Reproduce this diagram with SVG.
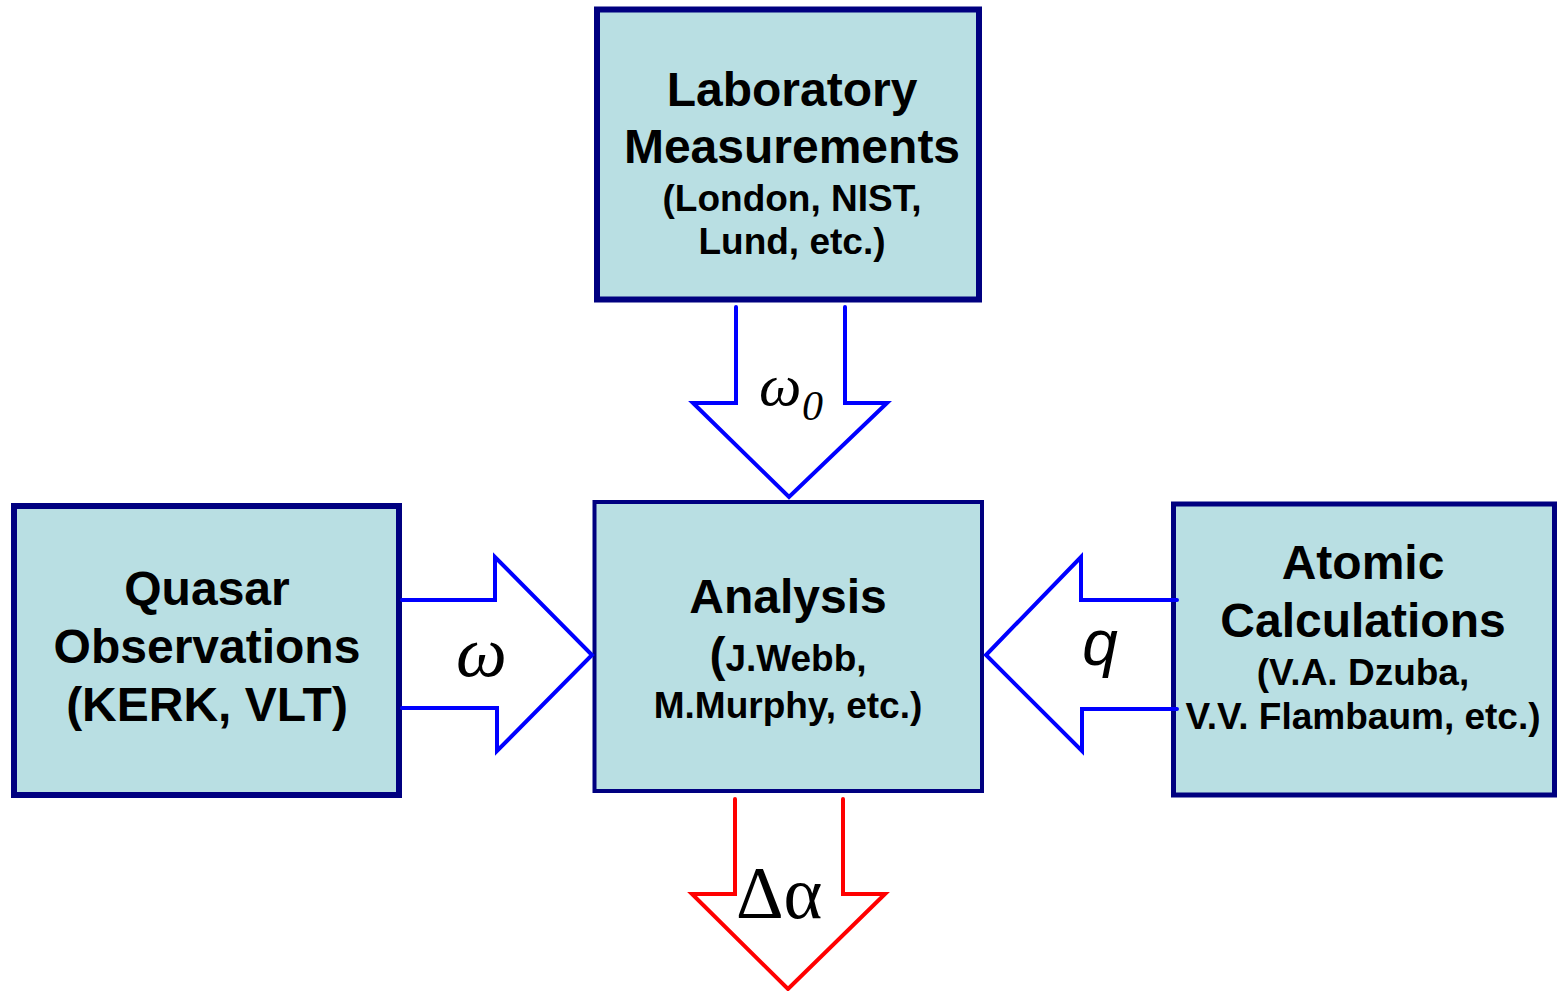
<svg xmlns="http://www.w3.org/2000/svg" width="1557" height="991" viewBox="0 0 1557 991">
<style>
.box{fill:#B9DFE3;stroke:#000080;stroke-linejoin:miter}
.t{font-family:"Liberation Sans",Arial,sans-serif;font-weight:bold;fill:#000;text-anchor:middle}
.big{font-size:48px}
.sm{font-size:37px}
.arr{fill:none;stroke-width:4;stroke-linejoin:miter;stroke-linecap:round}
.blue{stroke:#0000FF}
.red{stroke:#FF0000}
.g{font-family:"Liberation Serif","Times New Roman",serif;fill:#000}
</style>
<rect width="1557" height="991" fill="#FFFFFF"/>
<g id="lab">
<rect class="box" x="597" y="9.5" width="382" height="290" stroke-width="6"/>
<text class="t big" x="792" y="106">Laboratory</text>
<text class="t big" x="792" y="163">Measurements</text>
<text class="t sm" x="792" y="211">(London, NIST,</text>
<text class="t sm" x="792" y="254">Lund, etc.)</text>
</g>
<g id="quasar">
<rect class="box" x="14" y="506" width="385" height="289" stroke-width="6"/>
<text class="t big" x="207" y="605">Quasar</text>
<text class="t big" x="207" y="663">Observations</text>
<text class="t big" x="207" y="721">(KERK, VLT)</text>
</g>
<g id="analysis">
<rect class="box" x="594.5" y="502" width="387.5" height="289" stroke-width="4"/>
<text class="t big" x="788" y="613">Analysis</text>
<text class="t sm" x="788" y="671"><tspan font-size="48">(</tspan>J.Webb,</text>
<text class="t sm" x="788" y="718">M.Murphy, etc.)</text>
</g>
<g id="atomic">
<rect class="box" x="1173.5" y="504" width="381" height="291" stroke-width="5"/>
<text class="t big" x="1363" y="579">Atomic</text>
<text class="t big" x="1363" y="637">Calculations</text>
<text class="t sm" x="1363" y="685">(V.A. Dzuba,</text>
<text class="t sm" x="1363" y="729">V.V. Flambaum, etc.)</text>
</g>
<g id="connectors">
<polyline class="arr blue" points="736,307 736,403 693,403 789,497 887,403 845,403 845,307"/>
<polyline class="arr blue" points="402,600 495,600 495,557 592,655 497,751 497,708 402,708"/>
<polyline class="arr blue" points="1177,600 1081,600 1081,557 986,655 1082,751 1082,709 1177,709"/>
<polyline class="arr red" points="735,799 735,894 692,894 788,989 885,894 843,894 843,799"/>
<text class="g" x="759" y="405" font-size="60" font-style="italic">ω</text>
<text class="g" x="802" y="420" font-size="42" font-style="italic">0</text>
<text class="g" x="456" y="676" font-size="72" font-style="italic">ω</text>
<text x="1100" y="665" font-size="64" font-style="italic" text-anchor="middle" font-family="Liberation Sans,Arial,sans-serif" fill="#000">q</text>
<text class="g" x="736" y="918" font-size="74">Δα</text>
</g>
</svg>
